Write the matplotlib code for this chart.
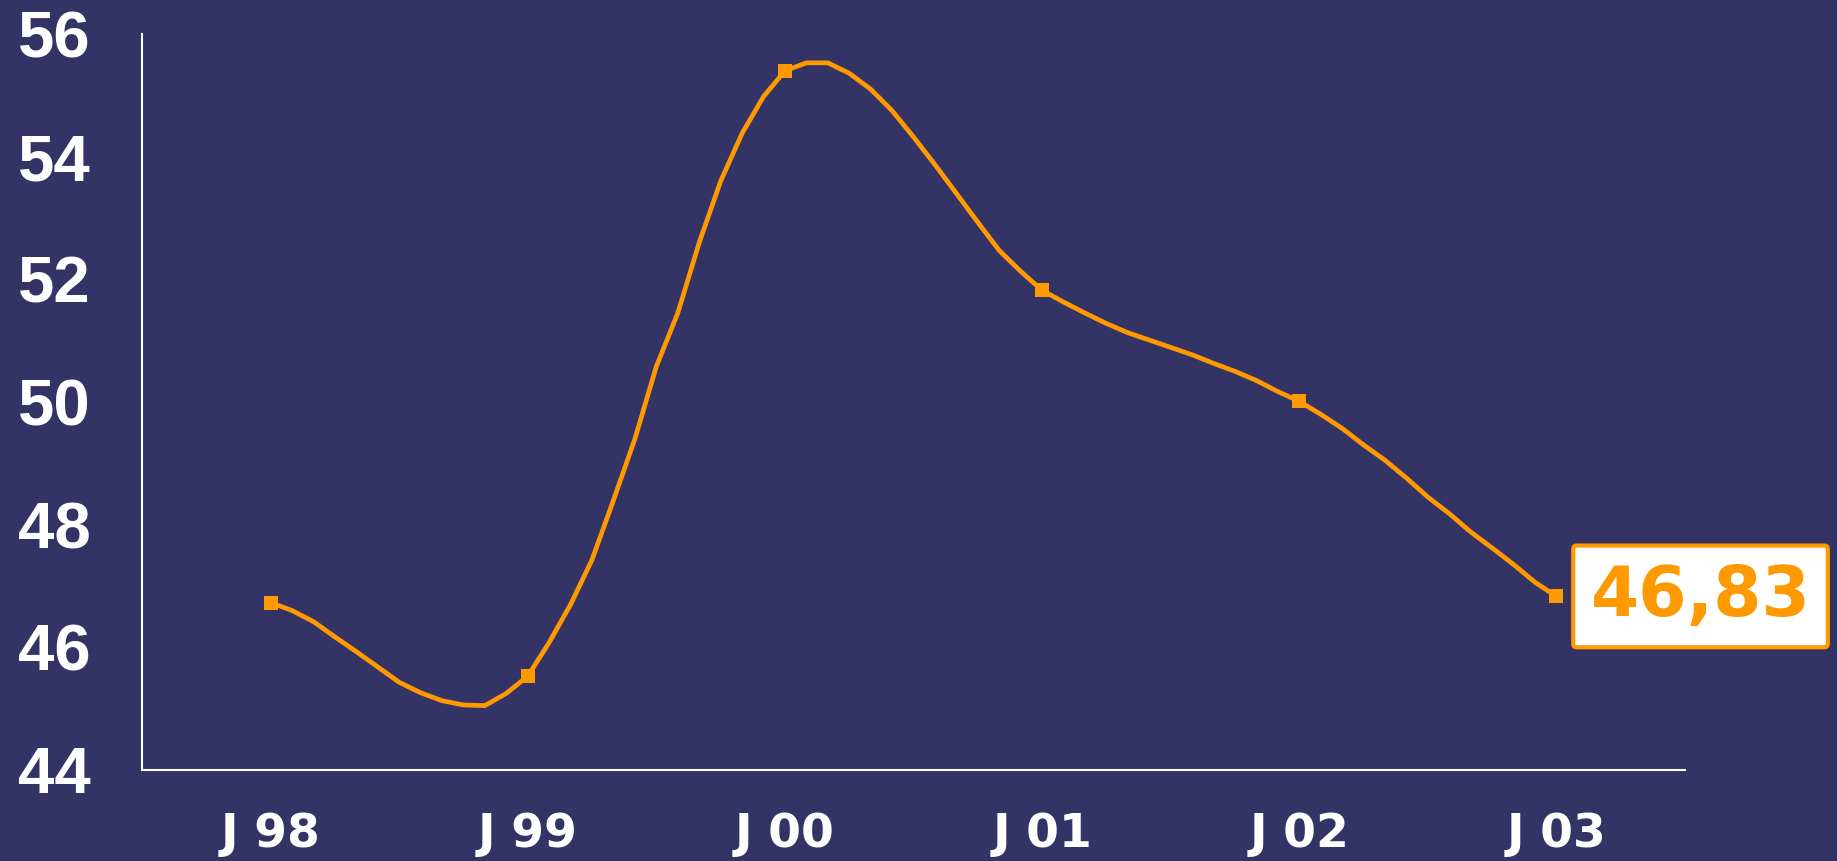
import numpy as np
import matplotlib
matplotlib.use('Agg')
import matplotlib.pyplot as plt

# monthly index from Jan 98 (0) to Jan 03 (60)
values = [46.73, 46.60, 46.42, 46.17, 45.93, 45.68, 45.43, 45.26, 45.13, 45.06,
          45.05, 45.25, 45.53, 46.08, 46.70, 47.43, 48.40, 49.40, 50.58, 51.45,
          52.60, 53.60, 54.38, 54.98, 55.40, 55.53, 55.53, 55.36, 55.10, 54.75,
          54.32, 53.87, 53.40, 52.93, 52.47, 52.13, 51.82, 51.63, 51.45, 51.28,
          51.13, 51.01, 50.89, 50.77, 50.63, 50.50, 50.35, 50.17, 50.01, 49.80,
          49.57, 49.30, 49.05, 48.76, 48.45, 48.18, 47.88, 47.62, 47.35, 47.06,
          46.83]
months = np.arange(len(values))
year_labels = ['J 98', 'J 99', 'J 00', 'J 01', 'J 02', 'J 03']
y_ticks = [44, 46, 48, 50, 52, 54, 56]
last_label = '46,83'

bg = '#333366'
orange = '#FF9900'

x = months / 12.0
fig = plt.figure(figsize=(18.37, 8.61), dpi=100, facecolor=bg)
ax = fig.add_axes([0.0773, 0.1057, 0.84, 0.8548], facecolor=bg)

ax.plot(x, values, '-', color=orange, lw=3.4)
ax.plot(x[::12], values[::12], 's', color=orange, ms=9.5, mew=0)

ax.set_xlim(-0.5, 5.5)
ax.set_ylim(44, 56)

ax.set_xticks(range(len(year_labels)))
ax.set_xticklabels(year_labels, family='DejaVu Sans', fontweight='bold', fontsize=34, color='white')
ax.set_yticks(y_ticks)
ax.set_yticklabels([str(v) for v in y_ticks], family='Liberation Sans', fontweight='bold', fontsize=47, color='white')
ax.tick_params(axis='x', length=0, pad=30)
ax.tick_params(axis='y', length=0, pad=37)

for s in ['top', 'right']:
    ax.spines[s].set_visible(False)
for s in ['left', 'bottom']:
    ax.spines[s].set_color('white')
    ax.spines[s].set_linewidth(1.5)

ax.text(5.56, values[-1], last_label, ha='center', va='center', family='DejaVu Sans',
        fontweight='bold', fontsize=50, color=orange, clip_on=False,
        bbox=dict(boxstyle='round,pad=0.25,rounding_size=0.05', fc='white', ec=orange, lw=3))

fig.savefig('out.png', dpi=100, facecolor=bg)
